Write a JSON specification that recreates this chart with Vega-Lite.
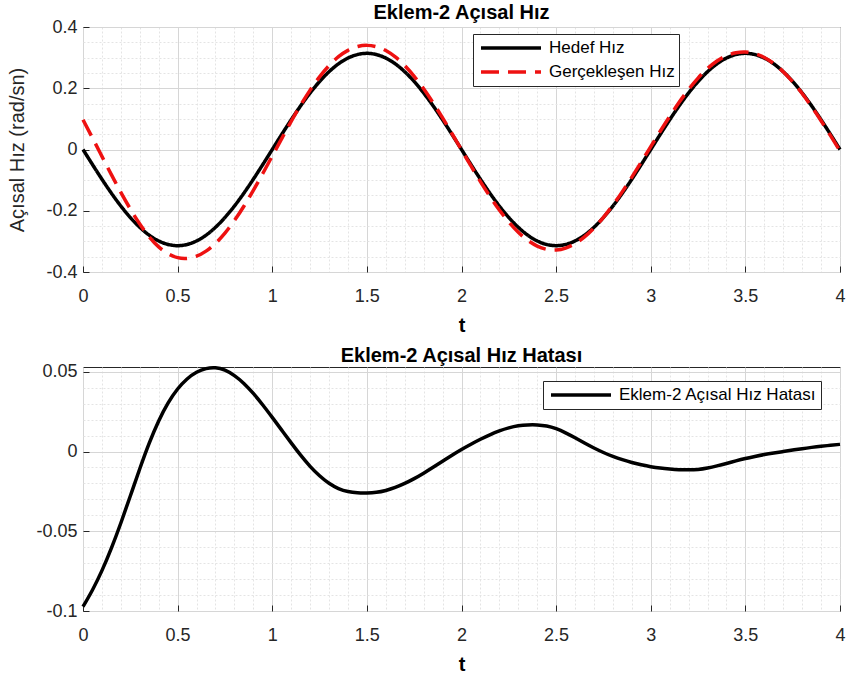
{
  "$schema": "https://vega.github.io/schema/vega-lite/v6.json",
  "padding": {"left": 7, "right": 5, "top": 2, "bottom": 5},
  "background": "white",
  "spacing": 9,
  "resolve": {"scale": {"color": "independent", "strokeDash": "independent"}, "legend": {"color": "independent", "strokeDash": "independent"}},
  "datasets": {
    "d": [
      {"t": 0, "hedef": 0, "gercek": 0.0973, "hata": -0.0973},
      {"t": 0.05, "hedef": -0.0491, "gercek": 0.0377, "hata": -0.0868},
      {"t": 0.1, "hedef": -0.097, "gercek": -0.0223, "hata": -0.0747},
      {"t": 0.15, "hedef": -0.1426, "gercek": -0.082, "hata": -0.0606},
      {"t": 0.2, "hedef": -0.1846, "gercek": -0.1398, "hata": -0.0448},
      {"t": 0.25, "hedef": -0.222, "gercek": -0.1941, "hata": -0.0279},
      {"t": 0.3, "hedef": -0.254, "gercek": -0.2432, "hata": -0.0108},
      {"t": 0.35, "hedef": -0.2798, "gercek": -0.2851, "hata": 0.0053},
      {"t": 0.4, "hedef": -0.2986, "gercek": -0.3178, "hata": 0.0192},
      {"t": 0.45, "hedef": -0.3101, "gercek": -0.3406, "hata": 0.0305},
      {"t": 0.5, "hedef": -0.314, "gercek": -0.3532, "hata": 0.0392},
      {"t": 0.55, "hedef": -0.3101, "gercek": -0.3556, "hata": 0.0455},
      {"t": 0.6, "hedef": -0.2986, "gercek": -0.3483, "hata": 0.0497},
      {"t": 0.65, "hedef": -0.2798, "gercek": -0.3318, "hata": 0.052},
      {"t": 0.7, "hedef": -0.254, "gercek": -0.3065, "hata": 0.0525},
      {"t": 0.75, "hedef": -0.222, "gercek": -0.273, "hata": 0.051},
      {"t": 0.8, "hedef": -0.1846, "gercek": -0.2322, "hata": 0.0476},
      {"t": 0.85, "hedef": -0.1426, "gercek": -0.1853, "hata": 0.0427},
      {"t": 0.9, "hedef": -0.097, "gercek": -0.1334, "hata": 0.0364},
      {"t": 0.95, "hedef": -0.0491, "gercek": -0.0783, "hata": 0.0292},
      {"t": 1.0, "hedef": 0, "gercek": -0.0214, "hata": 0.0214},
      {"t": 1.05, "hedef": 0.0491, "gercek": 0.0357, "hata": 0.0134},
      {"t": 1.1, "hedef": 0.097, "gercek": 0.0916, "hata": 0.0054},
      {"t": 1.15, "hedef": 0.1426, "gercek": 0.1449, "hata": -0.0023},
      {"t": 1.2, "hedef": 0.1846, "gercek": 0.1939, "hata": -0.0093},
      {"t": 1.25, "hedef": 0.222, "gercek": 0.2372, "hata": -0.0152},
      {"t": 1.3, "hedef": 0.254, "gercek": 0.2739, "hata": -0.0199},
      {"t": 1.35, "hedef": 0.2798, "gercek": 0.303, "hata": -0.0232},
      {"t": 1.4, "hedef": 0.2986, "gercek": 0.3237, "hata": -0.0251},
      {"t": 1.45, "hedef": 0.3101, "gercek": 0.336, "hata": -0.0259},
      {"t": 1.5, "hedef": 0.314, "gercek": 0.34, "hata": -0.026},
      {"t": 1.55, "hedef": 0.3101, "gercek": 0.3357, "hata": -0.0256},
      {"t": 1.6, "hedef": 0.2986, "gercek": 0.323, "hata": -0.0244},
      {"t": 1.65, "hedef": 0.2798, "gercek": 0.3023, "hata": -0.0225},
      {"t": 1.7, "hedef": 0.254, "gercek": 0.274, "hata": -0.02},
      {"t": 1.75, "hedef": 0.222, "gercek": 0.239, "hata": -0.017},
      {"t": 1.8, "hedef": 0.1846, "gercek": 0.1982, "hata": -0.0136},
      {"t": 1.85, "hedef": 0.1426, "gercek": 0.1525, "hata": -0.0099},
      {"t": 1.9, "hedef": 0.097, "gercek": 0.1031, "hata": -0.0061},
      {"t": 1.95, "hedef": 0.0491, "gercek": 0.0514, "hata": -0.0023},
      {"t": 2.0, "hedef": 0, "gercek": -0.0013, "hata": 0.0013},
      {"t": 2.05, "hedef": -0.0491, "gercek": -0.0537, "hata": 0.0046},
      {"t": 2.1, "hedef": -0.097, "gercek": -0.1047, "hata": 0.0077},
      {"t": 2.15, "hedef": -0.1426, "gercek": -0.1531, "hata": 0.0105},
      {"t": 2.2, "hedef": -0.1846, "gercek": -0.1975, "hata": 0.0129},
      {"t": 2.25, "hedef": -0.222, "gercek": -0.2368, "hata": 0.0148},
      {"t": 2.3, "hedef": -0.254, "gercek": -0.2701, "hata": 0.0161},
      {"t": 2.35, "hedef": -0.2798, "gercek": -0.2965, "hata": 0.0167},
      {"t": 2.4, "hedef": -0.2986, "gercek": -0.3153, "hata": 0.0167},
      {"t": 2.45, "hedef": -0.3101, "gercek": -0.3261, "hata": 0.016},
      {"t": 2.5, "hedef": -0.314, "gercek": -0.3283, "hata": 0.0143},
      {"t": 2.55, "hedef": -0.3101, "gercek": -0.3218, "hata": 0.0117},
      {"t": 2.6, "hedef": -0.2986, "gercek": -0.3072, "hata": 0.0086},
      {"t": 2.65, "hedef": -0.2798, "gercek": -0.2851, "hata": 0.0053},
      {"t": 2.7, "hedef": -0.254, "gercek": -0.2562, "hata": 0.0022},
      {"t": 2.75, "hedef": -0.222, "gercek": -0.2214, "hata": -0.0006},
      {"t": 2.8, "hedef": -0.1846, "gercek": -0.1816, "hata": -0.003},
      {"t": 2.85, "hedef": -0.1426, "gercek": -0.1375, "hata": -0.0051},
      {"t": 2.9, "hedef": -0.097, "gercek": -0.0901, "hata": -0.0069},
      {"t": 2.95, "hedef": -0.0491, "gercek": -0.0408, "hata": -0.0083},
      {"t": 3.0, "hedef": 0, "gercek": 0.0095, "hata": -0.0095},
      {"t": 3.05, "hedef": 0.0491, "gercek": 0.0595, "hata": -0.0104},
      {"t": 3.1, "hedef": 0.097, "gercek": 0.108, "hata": -0.011},
      {"t": 3.15, "hedef": 0.1426, "gercek": 0.154, "hata": -0.0114},
      {"t": 3.2, "hedef": 0.1846, "gercek": 0.1961, "hata": -0.0115},
      {"t": 3.25, "hedef": 0.222, "gercek": 0.2332, "hata": -0.0112},
      {"t": 3.3, "hedef": 0.254, "gercek": 0.2643, "hata": -0.0103},
      {"t": 3.35, "hedef": 0.2798, "gercek": 0.2888, "hata": -0.009},
      {"t": 3.4, "hedef": 0.2986, "gercek": 0.3061, "hata": -0.0075},
      {"t": 3.45, "hedef": 0.3101, "gercek": 0.316, "hata": -0.0059},
      {"t": 3.5, "hedef": 0.314, "gercek": 0.3184, "hata": -0.0044},
      {"t": 3.55, "hedef": 0.3101, "gercek": 0.3132, "hata": -0.0031},
      {"t": 3.6, "hedef": 0.2986, "gercek": 0.3005, "hata": -0.0019},
      {"t": 3.65, "hedef": 0.2798, "gercek": 0.2807, "hata": -0.0009},
      {"t": 3.7, "hedef": 0.254, "gercek": 0.254, "hata": 0.0},
      {"t": 3.75, "hedef": 0.222, "gercek": 0.2211, "hata": 0.0009},
      {"t": 3.8, "hedef": 0.1846, "gercek": 0.1828, "hata": 0.0018},
      {"t": 3.85, "hedef": 0.1426, "gercek": 0.14, "hata": 0.0026},
      {"t": 3.9, "hedef": 0.097, "gercek": 0.0937, "hata": 0.0033},
      {"t": 3.95, "hedef": 0.0491, "gercek": 0.0452, "hata": 0.0039},
      {"t": 4.0, "hedef": 0, "gercek": -0.0045, "hata": 0.0045}
    ]
  },
  "config": {
    "font": "Liberation Sans",
    "view": {"stroke": "#262626", "strokeWidth": 1},
    "axis": {
      "domain": false,
      "labelFont": "Liberation Sans",
      "labelFontSize": 18,
      "labelColor": "#262626",
      "titleColor": "#262626",
      "tickColor": "#262626",
      "labelOverlap": false,
      "labelFlush": false,
      "gridWidth": 1
    },
    "axisX": {"titleFontSize": 20, "titleFontWeight": "bold", "titleColor": "#000000", "titlePadding": 10},
    "axisY": {"titleFontSize": 20, "titleFontWeight": "normal", "titlePadding": 18},
    "title": {"font": "Liberation Sans", "fontSize": 20, "fontWeight": "bold", "color": "#000000", "offset": -5, "frame": "group"},
    "legend": {
      "labelFont": "Liberation Sans",
      "labelFontSize": 17,
      "labelColor": "#000000",
      "labelLimit": 400,
      "fillColor": "#ffffff",
      "strokeColor": "#262626",
      "padding": 4,
      "symbolType": "stroke",
      "symbolSize": 3600,
      "symbolStrokeWidth": 3.5,
      "symbolOffset": 2,
      "clipHeight": 20,
      "rowPadding": 4,
      "labelOffset": 6
    }
  },
  "vconcat": [
    {
      "width": 757,
      "height": 245,
      "title": "Eklem-2 Açısal Hız",
      "data": {"name": "d"},
      "transform": [{"fold": ["hedef", "gercek"], "as": ["seri", "deger"]}],
      "mark": {"type": "line", "strokeWidth": 3.5, "interpolate": "natural"},
      "encoding": {
        "x": {
          "field": "t", "type": "quantitative",
          "scale": {"domain": [0, 4], "nice": false, "zero": false},
          "axis": {
            "title": "t",
            "values": [0,0.1,0.2,0.3,0.4,0.5,0.6,0.7,0.8,0.9,1,1.1,1.2,1.3,1.4,1.5,1.6,1.7,1.8,1.9,2,2.1,2.2,2.3,2.4,2.5,2.6,2.7,2.8,2.9,3,3.1,3.2,3.3,3.4,3.5,3.6,3.7,3.8,3.9,4],
            "labelExpr": "abs(datum.value*2-round(datum.value*2))<1e-6 ? toString(datum.value) : ''",
            "grid": true,
            "gridColor": {"condition": {"test": "abs(datum.value*2-round(datum.value*2))<1e-6", "value": "#d6d6d6"}, "value": "#e4e4e4"},
            "gridDash": {"condition": {"test": "abs(datum.value*2-round(datum.value*2))<1e-6", "value": []}, "value": [2, 2]},
            "tickOpacity": {"condition": {"test": "abs(datum.value*2-round(datum.value*2))<1e-6", "value": 1}, "value": 0},
            "tickSize": -6,
            "labelPadding": 21
          }
        },
        "y": {
          "field": "deger", "type": "quantitative",
          "scale": {"domain": [-0.4, 0.4], "nice": false, "zero": false},
          "axis": {
            "title": "Açısal Hız (rad/sn)",
            "values": [-0.4,-0.35,-0.3,-0.25,-0.2,-0.15,-0.1,-0.05,0,0.05,0.1,0.15,0.2,0.25,0.3,0.35,0.4],
            "labelExpr": "abs(datum.value*5-round(datum.value*5))<1e-6 ? toString(datum.value) : ''",
            "grid": true,
            "gridColor": {"condition": {"test": "abs(datum.value*5-round(datum.value*5))<1e-6", "value": "#d6d6d6"}, "value": "#e4e4e4"},
            "gridDash": {"condition": {"test": "abs(datum.value*5-round(datum.value*5))<1e-6", "value": []}, "value": [2, 2]},
            "tickOpacity": {"condition": {"test": "abs(datum.value*5-round(datum.value*5))<1e-6", "value": 1}, "value": 0},
            "tickSize": -6,
            "labelPadding": 12
          }
        },
        "color": {
          "field": "seri", "type": "nominal",
          "scale": {"domain": ["hedef", "gercek"], "range": ["#000000", "#ee1111"]},
          "legend": {"title": null, "orient": "none", "legendX": 390, "legendY": 7, "labelExpr": "datum.label == 'hedef' ? 'Hedef Hız' : 'Gerçekleşen Hız'"}
        },
        "strokeDash": {
          "field": "seri", "type": "nominal",
          "scale": {"domain": ["hedef", "gercek"], "range": [[1, 0], [18, 9]]},
          "legend": {"title": null, "orient": "none", "legendX": 390, "legendY": 7, "labelExpr": "datum.label == 'hedef' ? 'Hedef Hız' : 'Gerçekleşen Hız'"}
        }
      }
    },
    {
      "width": 757,
      "height": 244,
      "title": "Eklem-2 Açısal Hız Hatası",
      "data": {"name": "d"},
      "transform": [{"fold": ["hata"], "as": ["seri", "deger"]}],
      "mark": {"type": "line", "strokeWidth": 3.5, "interpolate": "natural"},
      "encoding": {
        "x": {
          "field": "t", "type": "quantitative",
          "scale": {"domain": [0, 4], "nice": false, "zero": false},
          "axis": {
            "title": "t",
            "values": [0,0.1,0.2,0.3,0.4,0.5,0.6,0.7,0.8,0.9,1,1.1,1.2,1.3,1.4,1.5,1.6,1.7,1.8,1.9,2,2.1,2.2,2.3,2.4,2.5,2.6,2.7,2.8,2.9,3,3.1,3.2,3.3,3.4,3.5,3.6,3.7,3.8,3.9,4],
            "labelExpr": "abs(datum.value*2-round(datum.value*2))<1e-6 ? toString(datum.value) : ''",
            "grid": true,
            "gridColor": {"condition": {"test": "abs(datum.value*2-round(datum.value*2))<1e-6", "value": "#d6d6d6"}, "value": "#e4e4e4"},
            "gridDash": {"condition": {"test": "abs(datum.value*2-round(datum.value*2))<1e-6", "value": []}, "value": [2, 2]},
            "tickOpacity": {"condition": {"test": "abs(datum.value*2-round(datum.value*2))<1e-6", "value": 1}, "value": 0},
            "tickSize": -6,
            "labelPadding": 21
          }
        },
        "y": {
          "field": "deger", "type": "quantitative",
          "scale": {"domain": [-0.1, 0.053], "nice": false, "zero": false},
          "axis": {
            "title": null,
            "values": [-0.1,-0.09,-0.08,-0.07,-0.06,-0.05,-0.04,-0.03,-0.02,-0.01,0,0.01,0.02,0.03,0.04,0.05],
            "labelExpr": "abs(datum.value*20-round(datum.value*20))<1e-6 ? toString(datum.value) : ''",
            "grid": true,
            "gridColor": {"condition": {"test": "abs(datum.value*20-round(datum.value*20))<1e-6", "value": "#d6d6d6"}, "value": "#e4e4e4"},
            "gridDash": {"condition": {"test": "abs(datum.value*20-round(datum.value*20))<1e-6", "value": []}, "value": [2, 2]},
            "tickOpacity": {"condition": {"test": "abs(datum.value*20-round(datum.value*20))<1e-6", "value": 1}, "value": 0},
            "tickSize": -6,
            "labelPadding": 12
          }
        },
        "color": {
          "field": "seri", "type": "nominal",
          "scale": {"domain": ["hata"], "range": ["#000000"]},
          "legend": {"title": null, "orient": "none", "legendX": 460, "legendY": 14, "labelExpr": "'Eklem-2 Açısal Hız Hatası'"}
        }
      }
    }
  ]
}
